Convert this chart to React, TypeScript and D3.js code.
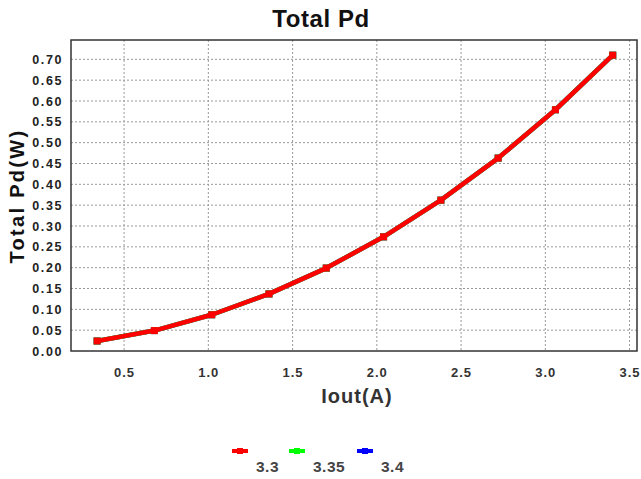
import React from "react";
import * as d3 from "d3";

const iout = [0.34, 0.68, 1.02, 1.36, 1.7, 2.04, 2.38, 2.72, 3.06, 3.4];
const pd33 = [0.024, 0.049, 0.087, 0.137, 0.199, 0.274, 0.362, 0.463, 0.579, 0.71];
const pd335 = [0.024, 0.049, 0.087, 0.137, 0.199, 0.274, 0.362, 0.463, 0.579, 0.71];
const pd34 = [0.024, 0.049, 0.087, 0.137, 0.199, 0.274, 0.362, 0.463, 0.579, 0.71];
const seriesNames = ["3.3", "3.35", "3.4"];
const seriesColors = ["#ff0000", "#00ff00", "#0000ff"];
const xTicks = [0.5, 1.0, 1.5, 2.0, 2.5, 3.0, 3.5];
const yTicks = [0, 0.05, 0.1, 0.15, 0.2, 0.25, 0.3, 0.35, 0.4, 0.45, 0.5, 0.55, 0.6, 0.65, 0.7];

const W = 641;
const H = 479;
const plot = { left: 71, right: 637, top: 40, bottom: 351 };
const font = "'Liberation Sans', Arial, sans-serif";

export default function App() {
  const x = d3.scaleLinear().domain([0.185, 3.544]).range([plot.left, plot.right]);
  const y = d3.scaleLinear().domain([0, 0.7464]).range([plot.bottom, plot.top]);
  const line = d3
    .line<[number, number]>()
    .x((d) => x(d[0]))
    .y((d) => y(d[1]));

  const all = [pd33, pd335, pd34];
  // draw last series first so the first one ends on top
  const order = [2, 1, 0];

  const legendX = [240, 297, 365];

  return (
    <svg width={W} height={H} style={{ position: "absolute", left: 0, top: 0 }} fontFamily={font}>
      <rect width={W} height={H} fill="#fff" />
      <text x={321} y={27} textAnchor="middle" fontSize={24} fontWeight="bold" fill="#111" letterSpacing={0.6}>
        Total Pd
      </text>
      {xTicks.map((t) => (
        <line key={"gx" + t} x1={x(t)} x2={x(t)} y1={plot.top} y2={plot.bottom} stroke="#999" strokeDasharray="2,2" strokeWidth={1} />
      ))}
      {yTicks.slice(1).map((t) => (
        <line key={"gy" + t} x1={plot.left} x2={plot.right} y1={y(t)} y2={y(t)} stroke="#999" strokeDasharray="2,2" strokeWidth={1} />
      ))}
      <rect x={plot.left} y={plot.top} width={plot.right - plot.left} height={plot.bottom - plot.top} fill="none" stroke="#333" strokeWidth={1.5} />
      {yTicks.map((t) => (
        <text key={"ty" + t} x={63} y={y(t) + 4.5} textAnchor="end" fontSize={12.5} fontWeight="bold" fill="#222" letterSpacing={1.6}>
          {t.toFixed(2)}
        </text>
      ))}
      {xTicks.map((t) => (
        <text key={"tx" + t} x={x(t) + 0.5} y={377} textAnchor="middle" fontSize={13} fontWeight="bold" fill="#333" letterSpacing={1}>
          {t.toFixed(1)}
        </text>
      ))}
      <text x={357} y={403} textAnchor="middle" fontSize={20} fontWeight="bold" fill="#333" letterSpacing={1}>
        Iout(A)
      </text>
      <text transform="translate(24,196) rotate(-90)" textAnchor="middle" fontSize={20} fontWeight="bold" fill="#111" letterSpacing={2.3}>
        Total Pd(W)
      </text>
      {order.map((si) => {
        const pts: [number, number][] = iout.map((v, i) => [v, all[si][i]]);
        return (
          <g key={"s" + si}>
            <path d={line(pts) || ""} fill="none" stroke={seriesColors[si]} strokeWidth={4.5} strokeLinejoin="round" />
            {pts.map((p, i) => (
              <rect key={i} x={x(p[0]) - 3.5} y={y(p[1]) - 3.5} width={7} height={7} fill={seriesColors[si]} />
            ))}
          </g>
        );
      })}
      {seriesNames.map((n, i) => (
        <g key={"lg" + n}>
          <line x1={legendX[i] - 8} x2={legendX[i] + 8} y1={451} y2={451} stroke={seriesColors[i]} strokeWidth={4} />
          <rect x={legendX[i] - 3} y={448} width={6} height={6} fill={seriesColors[i]} />
          <text x={legendX[i] + 16} y={472} fontSize={15.5} fontWeight="bold" fill="#444" letterSpacing={0.5}>
            {n}
          </text>
        </g>
      ))}
    </svg>
  );
}
